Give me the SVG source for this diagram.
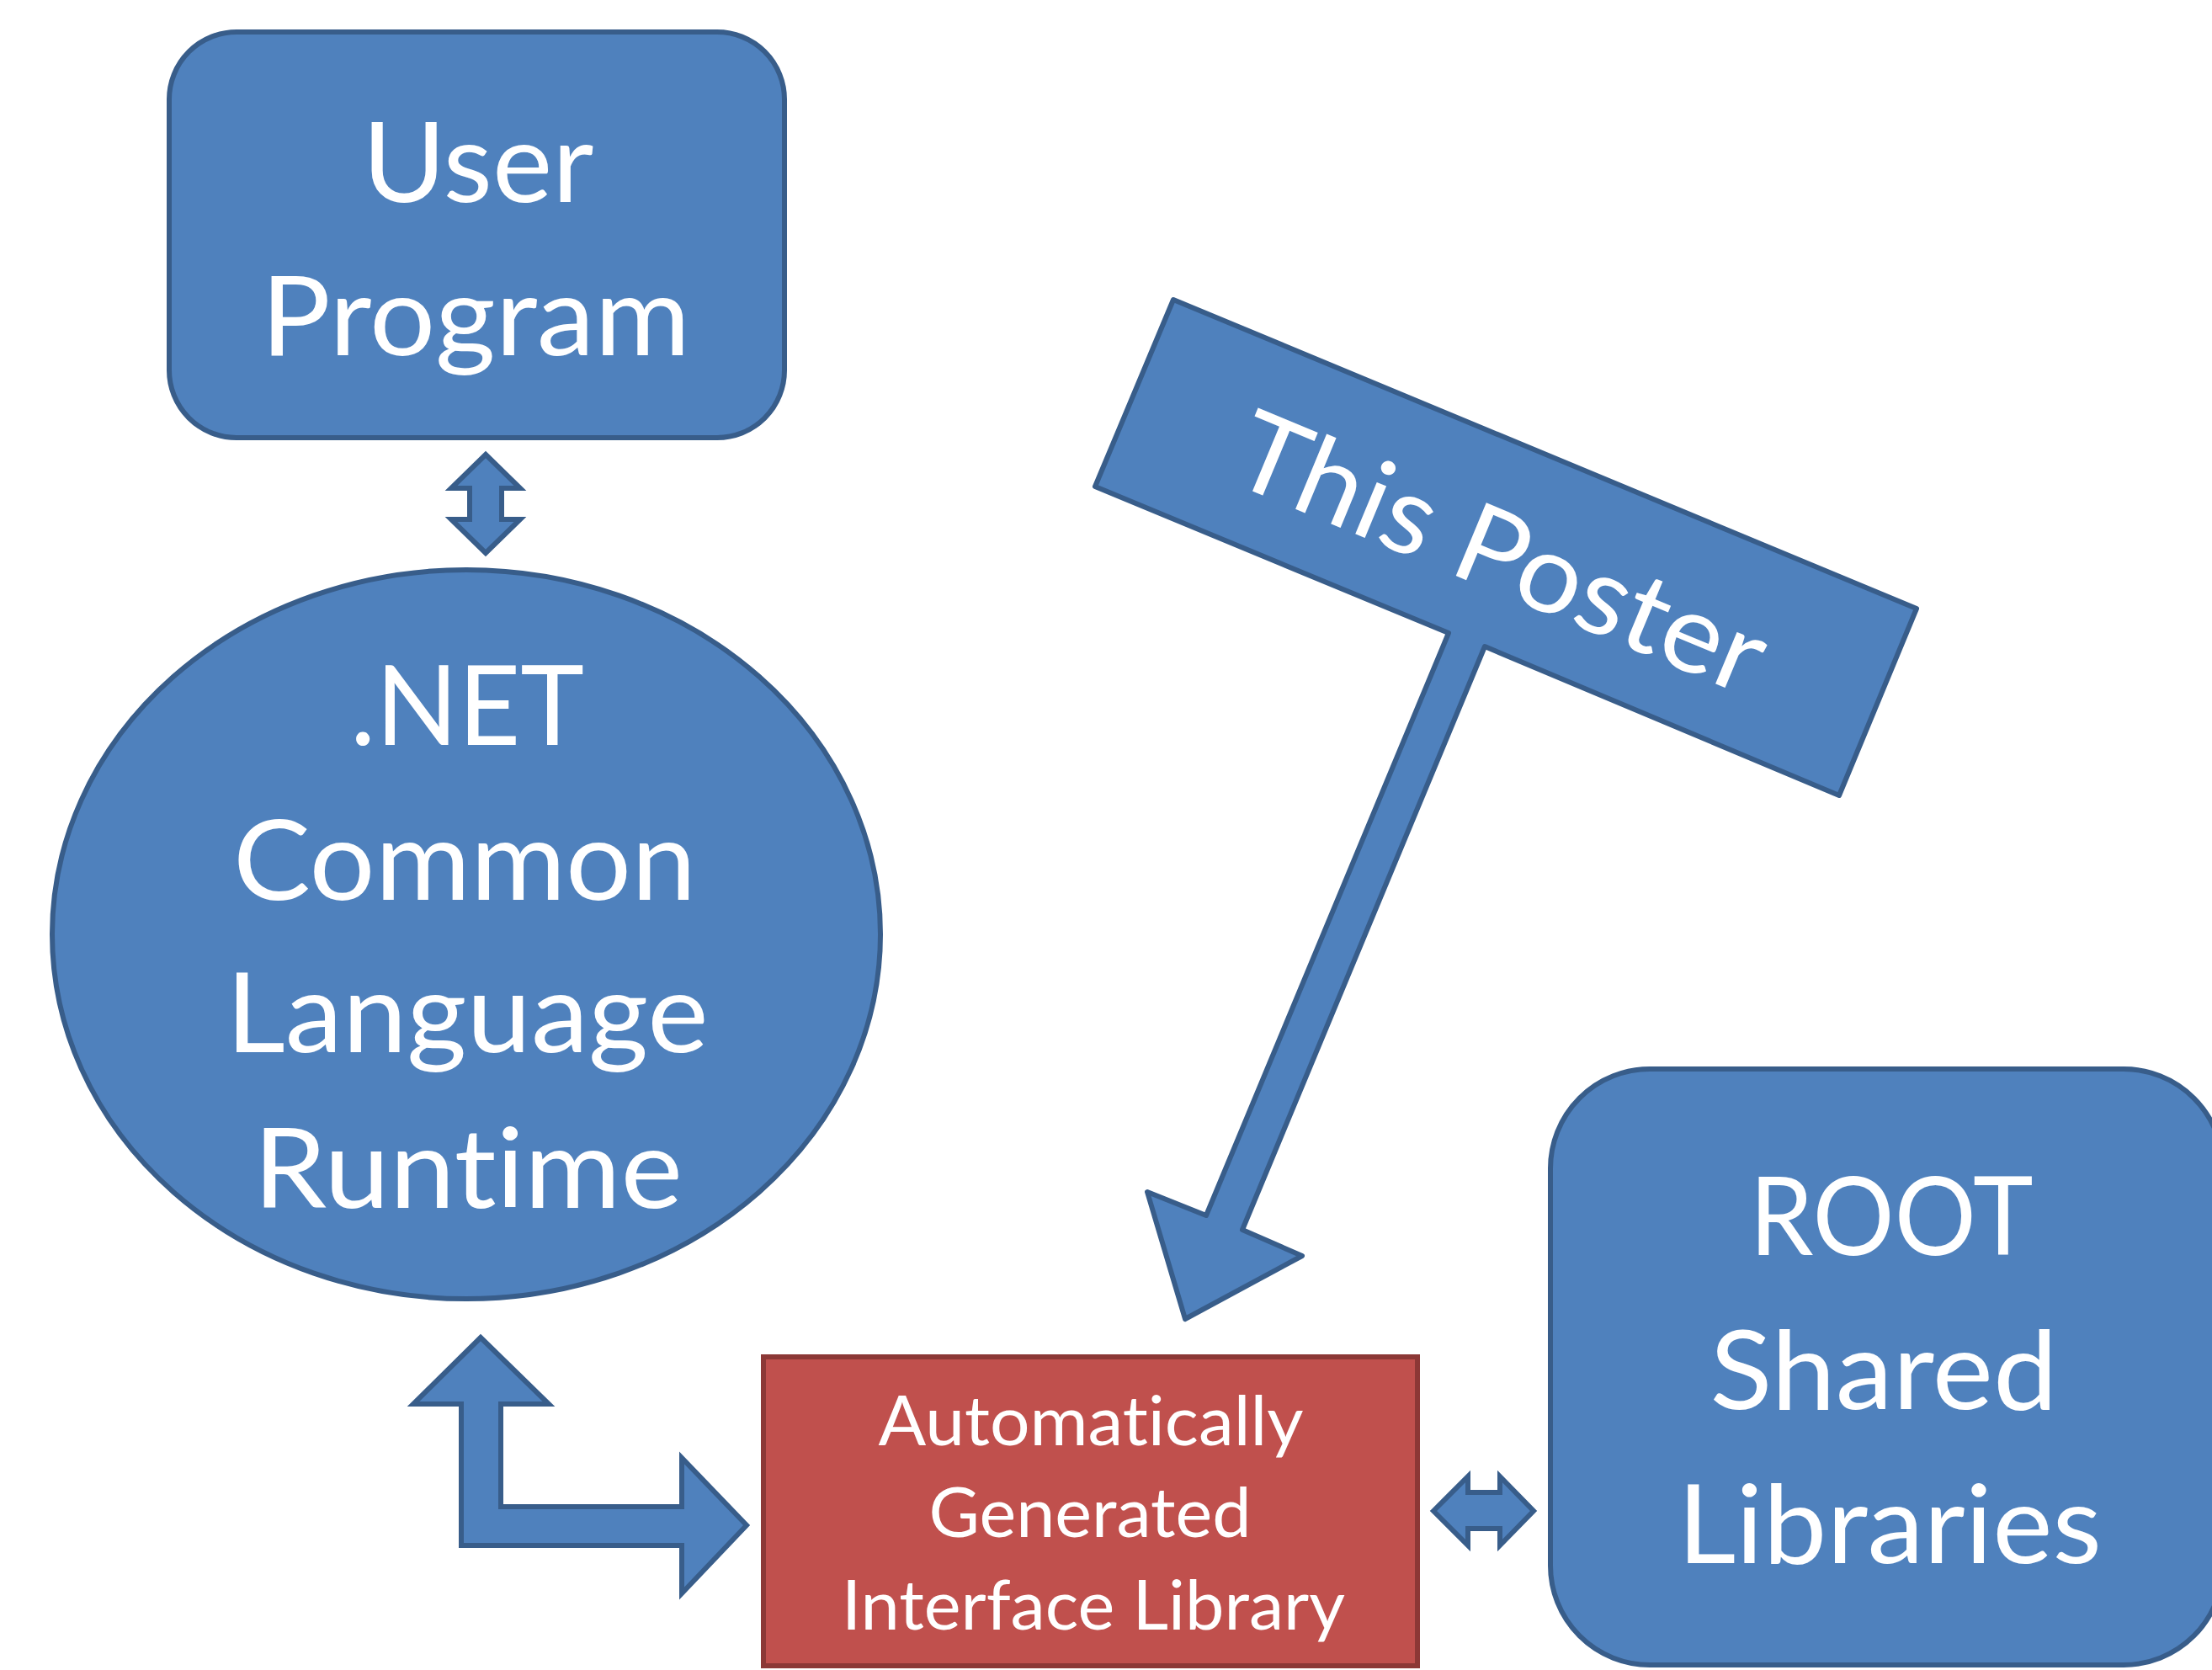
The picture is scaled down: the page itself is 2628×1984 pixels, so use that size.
<svg xmlns="http://www.w3.org/2000/svg" width="2628" height="1984" viewBox="0 0 2628 1984">
<style>
.blue{fill:#4F81BD;stroke:#385D8A;stroke-width:6}
.red{fill:#C0504D;stroke:#8C3836;stroke-width:6}
.arr{fill:#4F81BD;stroke:#385D8A;stroke-width:6;stroke-linejoin:miter}
.t{fill:#FFFFFF;font-family:Lato,"Open Sans","Liberation Sans",sans-serif;text-anchor:middle;font-variant-ligatures:none;font-feature-settings:"liga" 0,"clig" 0,"dlig" 0}
.big{font-size:131px}
.mid{font-size:129px}
.sm{font-size:81px}
</style>
<rect width="2628" height="1984" fill="#FFFFFF"/>
<g id="user-program">
<rect class="blue" x="201" y="38" width="731" height="482" rx="80" ry="80"/>
<text class="t big" x="568" y="240" textLength="275" lengthAdjust="spacingAndGlyphs">User</text>
<text class="t big" x="565" y="422" textLength="510" lengthAdjust="spacingAndGlyphs">Program</text>
</g>
<g id="clr">
<ellipse class="blue" cx="554" cy="1110" rx="492" ry="433"/>
<text class="t big" x="555" y="885" textLength="278" lengthAdjust="spacingAndGlyphs">.NET</text>
<text class="t big" x="552" y="1069" textLength="550" lengthAdjust="spacingAndGlyphs">Common</text>
<text class="t big" x="555" y="1250" textLength="573" lengthAdjust="spacingAndGlyphs">Language</text>
<text class="t big" x="556" y="1435" textLength="510" lengthAdjust="spacingAndGlyphs">Runtime</text>
</g>
<g id="interface-library">
<rect class="red" x="907" y="1612" width="777" height="367"/>
<text class="t sm" x="1296" y="1717" textLength="505" lengthAdjust="spacingAndGlyphs">Automatically</text>
<text class="t sm" x="1295" y="1826" textLength="383" lengthAdjust="spacingAndGlyphs">Generated</text>
<text class="t sm" x="1299" y="1936" textLength="598" lengthAdjust="spacingAndGlyphs">Interface Library</text>
</g>
<g id="root-libraries">
<rect class="blue" x="1842" y="1270" width="799" height="708" rx="118" ry="118"/>
<text class="t mid" x="2247" y="1491" textLength="337" lengthAdjust="spacingAndGlyphs">ROOT</text>
<text class="t mid" x="2238" y="1674" textLength="413" lengthAdjust="spacingAndGlyphs">Shared</text>
<text class="t mid" x="2245" y="1857" textLength="504" lengthAdjust="spacingAndGlyphs">Libraries</text>
</g>
<g id="this-poster">
<polygon class="blue" style="stroke-linejoin:round" points="1394,356 2277,723 2185,945 1764,768 1476,1461 1547,1492 1408,1567 1363,1416 1433,1444 1721,752 1301,578"/>
<text class="t big" transform="translate(1766,699) rotate(22.57)" x="0" y="0" textLength="670" lengthAdjust="spacingAndGlyphs">This Poster</text>
</g>
<g id="connectors">
<polygon class="arr" points="577,540 618,580 596,580 596,617 618,617 577,657 536,617 558,617 558,580 536,580"/>
<polygon class="arr" points="571,1589 652,1668 595,1668 595,1790 810,1790 810,1732 887,1812 810,1893 810,1836 548,1836 548,1668 491,1668"/>
<polygon class="arr" points="1703,1795 1744,1754 1744,1773 1782,1773 1782,1754 1822,1795 1782,1836 1782,1816 1744,1816 1744,1836"/>
</g>
</svg>
